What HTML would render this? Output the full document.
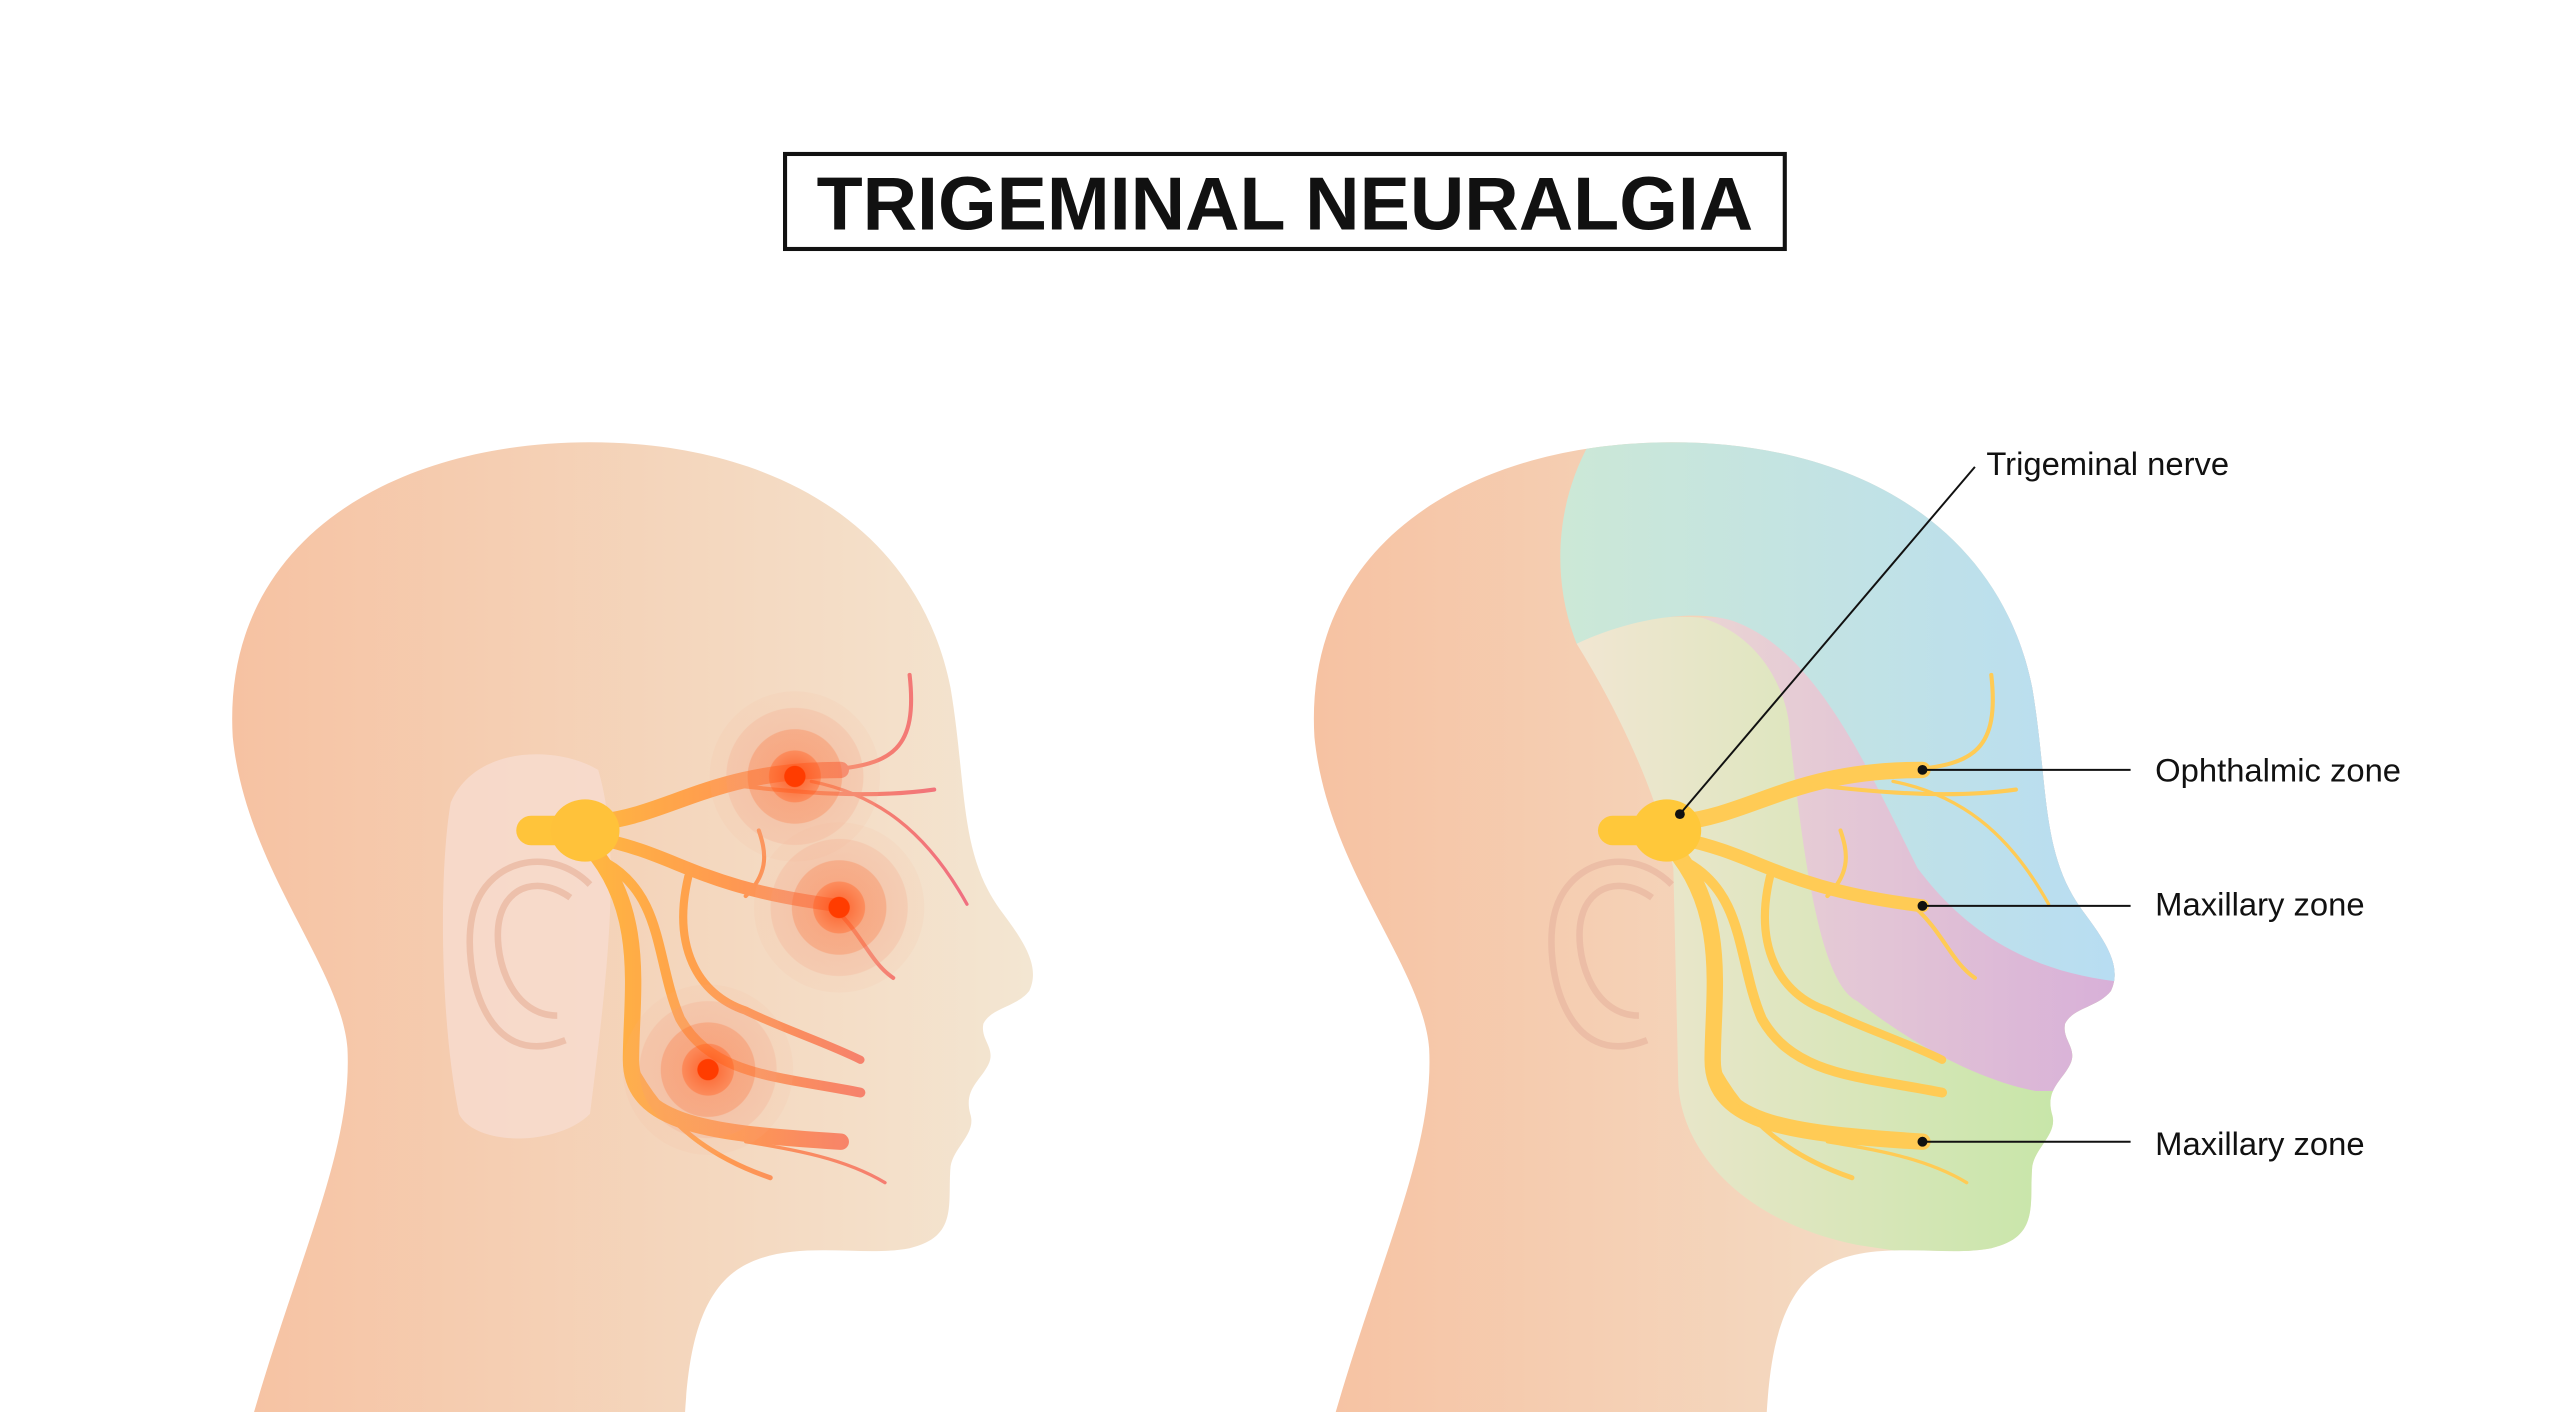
<!DOCTYPE html>
<html><head><meta charset="utf-8"><style>html,body{margin:0;padding:0;background:#fff}svg{display:block}</style></head>
<body>
<svg width="2560" height="1412" viewBox="0 0 1562 862" preserveAspectRatio="none" xmlns="http://www.w3.org/2000/svg">
<defs>
<linearGradient id="skin" x1="0" x2="1"><stop offset="0" stop-color="#f6c2a2"/><stop offset="1" stop-color="#f3e6d2"/></linearGradient>
<linearGradient id="gz" gradientUnits="userSpaceOnUse" x1="960" x2="1260"><stop offset="0" stop-color="#f1e6d2"/><stop offset="1" stop-color="#c7e6a8"/></linearGradient>
<linearGradient id="pz" gradientUnits="userSpaceOnUse" x1="1040" x2="1290"><stop offset="0" stop-color="#ead4d4"/><stop offset="1" stop-color="#d8b0d8"/></linearGradient>
<linearGradient id="bz" gradientUnits="userSpaceOnUse" x1="950" x2="1290"><stop offset="0" stop-color="#cce8d6"/><stop offset="1" stop-color="#b8ddf2"/></linearGradient>
<linearGradient id="nl" gradientUnits="userSpaceOnUse" x1="-30" x2="230"><stop offset="0" stop-color="#ffc23a"/><stop offset="0.45" stop-color="#ff9a50"/><stop offset="1" stop-color="#f07080"/></linearGradient>
<radialGradient id="pain"><stop offset="0" stop-color="#ff3c00"/><stop offset="0.12" stop-color="#ff3c00"/><stop offset="0.13" stop-color="#ff5a20" stop-opacity="0.8"/><stop offset="0.3" stop-color="#ff6a30" stop-opacity="0.7"/><stop offset="0.31" stop-color="#f98050" stop-opacity="0.55"/><stop offset="0.55" stop-color="#f98050" stop-opacity="0.5"/><stop offset="0.56" stop-color="#f4a080" stop-opacity="0.35"/><stop offset="0.8" stop-color="#f4a080" stop-opacity="0.3"/><stop offset="0.81" stop-color="#f4b090" stop-opacity="0.12"/><stop offset="1" stop-color="#f4b090" stop-opacity="0.1"/></radialGradient>
<path id="head" d="M155,862 C185,760 215,700 212,640 C208,590 150,530 142,450 C135,330 240,270 360,270 C470,270 560,320 580,420 C590,480 585,520 610,555 C625,575 635,590 628,605 C620,615 605,615 600,625 C598,635 608,640 603,650 C598,660 588,665 592,680 C596,692 582,700 580,712 C578,735 585,755 555,762 C525,768 480,755 450,775 C425,792 420,830 418,862 Z"/>
<clipPath id="hc"><use href="#head" transform="translate(660,0)"/></clipPath>
<g id="nerves">
<path d="M10,-5 C55,-10 80,-37 158,-37" stroke-width="10"/>
<path d="M150,-37 C190,-40 205,-50 200,-95" stroke-width="2.5"/>
<path d="M90,-28 C140,-22 180,-20 215,-25" stroke-width="2.5"/>
<path d="M140,-30 C180,-22 210,0 235,45" stroke-width="2"/>
<path d="M10,5 C60,15 70,35 158,46" stroke-width="8"/>
<path d="M150,44 C170,60 175,80 190,90" stroke-width="2.5"/>
<path d="M100,40 C115,25 112,12 108,0" stroke-width="2.5"/>
<path d="M65,28 C55,70 70,100 100,110 C120,120 150,130 170,140" stroke-width="5"/>
<path d="M5,10 C40,50 30,100 30,140 C30,180 80,185 158,190" stroke-width="10"/>
<path d="M15,20 C50,40 45,80 60,115 C80,150 120,150 170,160" stroke-width="6"/>
<path d="M30,140 C50,180 80,200 115,212" stroke-width="3"/>
<path d="M100,190 C130,195 160,200 185,215" stroke-width="2"/>
</g>
</defs>
<rect x="479" y="94" width="610" height="58" fill="#fff" stroke="#111" stroke-width="2.5"/>
<text x="784" y="140" text-anchor="middle" font-family="Liberation Sans, sans-serif" font-weight="bold" font-size="46" fill="#111">TRIGEMINAL NEURALGIA</text>

<!-- left head -->
<use href="#head" fill="url(#skin)"/>
<path d="M275,490 C290,455 340,455 365,470 C380,520 370,600 360,680 C340,700 290,700 280,680 C268,620 268,530 275,490Z" fill="#f7dccf" opacity="0.8"/>
<path d="M345,635 C295,655 282,590 288,560 C295,525 335,515 360,540 M340,620 C310,620 300,580 305,560 C310,540 330,535 348,548" fill="none" stroke="#eab9a2" stroke-width="4" opacity="0.8"/>
<g fill="none" stroke="url(#nl)" stroke-linecap="round" transform="translate(355,507)"><use href="#nerves"/></g>
<rect x="315" y="498" width="34" height="18" rx="9" fill="#ffc43a"/>
<ellipse cx="357" cy="507" rx="21" ry="19" fill="#ffc23a"/>
<circle cx="485" cy="474" r="52" fill="url(#pain)"/>
<circle cx="512" cy="554" r="52" fill="url(#pain)"/>
<circle cx="432" cy="653" r="52" fill="url(#pain)"/>

<!-- right head -->
<use href="#head" transform="translate(660,0)" fill="url(#skin)"/>
<g clip-path="url(#hc)">
<path d="M962,393 C1000,370 1060,370 1100,400 L1400,400 L1400,800 L1133,760 C1060,745 1025,700 1024,660 L1021,530 C1010,480 985,430 962,393 Z" fill="url(#gz)"/>
<path d="M1038,377 C1080,390 1092,430 1092,448 C1100,520 1110,600 1133,611 C1170,640 1210,660 1242,666 L1400,666 L1400,377 Z" fill="url(#pz)"/>
<path d="M975,262 C950,300 945,350 962,393 C1000,375 1040,372 1060,380 C1110,400 1140,470 1170,530 C1200,570 1240,595 1300,600 L1400,600 L1400,250 Z" fill="url(#bz)"/>
</g>
<path d="M1005,635 C955,655 942,590 948,560 C955,525 995,515 1020,540 M1000,620 C970,620 960,580 965,560 C970,540 990,535 1008,548" fill="none" stroke="#eab9a2" stroke-width="4" opacity="0.8"/>
<g fill="none" stroke="#ffcb55" stroke-linecap="round" transform="translate(1015,507)"><use href="#nerves"/></g>
<rect x="975" y="498" width="34" height="18" rx="9" fill="#ffc83a"/>
<ellipse cx="1017" cy="507" rx="21" ry="19" fill="#ffc83a"/>

<g stroke="#111" stroke-width="1.2" fill="#111">
<line x1="1025" y1="497" x2="1205" y2="285"/>
<line x1="1173" y1="470" x2="1300" y2="470"/>
<line x1="1173" y1="553" x2="1300" y2="553"/>
<line x1="1173" y1="697" x2="1300" y2="697"/>
<circle cx="1025" cy="497" r="3" stroke="none"/>
<circle cx="1173" cy="470" r="3" stroke="none"/>
<circle cx="1173" cy="553" r="3" stroke="none"/>
<circle cx="1173" cy="697" r="3" stroke="none"/>
</g>
<g font-family="Liberation Sans, sans-serif" font-size="20" fill="#111">
<text x="1212" y="290">Trigeminal nerve</text>
<text x="1315" y="477">Ophthalmic zone</text>
<text x="1315" y="559">Maxillary zone</text>
<text x="1315" y="705">Maxillary zone</text>
</g>
</svg>
</body></html>
